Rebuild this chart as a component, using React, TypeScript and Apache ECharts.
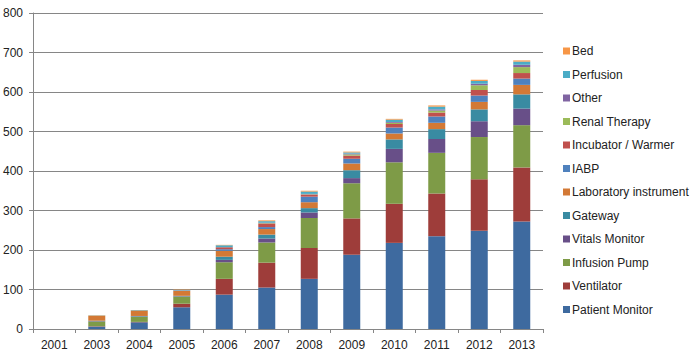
import React, { useEffect, useRef } from "react";
import * as echarts from "echarts";

const years = ["2001", "2003", "2004", "2005", "2006", "2007", "2008", "2009", "2010", "2011", "2012", "2013"];

const patientMonitor = [0, 6, 17, 55, 87, 105, 127, 188, 218, 235, 249, 272];
const ventilator = [0, 1, 1, 9, 40, 63, 78, 92, 99, 108, 130, 137];
const infusionPump = [0, 12, 13, 18, 42, 51, 76, 89, 105, 103, 107, 107];
const vitalsMonitor = [0, 1, 1, 1, 6, 10, 14, 13, 34, 35, 40, 42];
const gateway = [0, 1, 1, 1, 8, 10, 11, 20, 24, 25, 30, 36];
const labInstrument = [0, 12, 14, 13, 15, 14, 15, 17, 15, 16, 19, 24];
const iabp = [0, 0, 0, 1, 4, 5, 14, 12, 15, 16, 16, 16];
const incubator = [0, 0, 0, 0, 5, 9, 5, 8, 9, 10, 14, 14];
const renalTherapy = [0, 0, 0, 0, 0, 1, 1, 3, 3, 5, 12, 15];
const other = [0, 0, 0, 0, 0, 1, 1, 2, 2, 3, 4, 6];
const perfusion = [0, 1, 1, 1, 5, 4, 6, 3, 6, 7, 7, 8];
const bed = [0, 1, 0, 1, 1, 2, 2, 2, 2, 3, 3, 3];

const seriesNames = [
  "Patient Monitor",
  "Ventilator",
  "Infusion Pump",
  "Vitals Monitor",
  "Gateway",
  "Laboratory instrument",
  "IABP",
  "Incubator / Warmer",
  "Renal Therapy",
  "Other",
  "Perfusion",
  "Bed",
];
const seriesData = [
  patientMonitor, ventilator, infusionPump, vitalsMonitor, gateway, labInstrument,
  iabp, incubator, renalTherapy, other, perfusion, bed,
];
const seriesColors = [
  "#3E6A9F", "#9E3D3A", "#7E9B47", "#684F88", "#398BA2", "#D37935",
  "#4F81BD", "#C0504D", "#9BBB59", "#8064A2", "#4BACC6", "#F79646",
];

const yTicks = [0, 100, 200, 300, 400, 500, 600, 700, 800];

export default function App() {
  const ref = useRef<HTMLDivElement>(null);
  useEffect(() => {
    if (!ref.current) return;
    const chart = echarts.init(ref.current, undefined, { renderer: "svg" });
    const font = "'Liberation Sans', Arial, sans-serif";
    chart.setOption({
      animation: false,
      backgroundColor: "#ffffff",
      textStyle: { fontFamily: font },
      grid: { left: 33, right: 157, top: 13, bottom: 26 },
      legend: {
        orient: "vertical",
        left: 558,
        top: 39,
        itemWidth: 7,
        itemHeight: 7,
        itemGap: 9.5,
        icon: "rect",
        data: [...seriesNames].reverse(),
        textStyle: { fontFamily: font, fontSize: 12, color: "#222", padding: [0, 0, 0, -3], lineHeight: 14 },
      },
      xAxis: {
        type: "category",
        data: years,
        axisLine: { show: true, lineStyle: { color: "#868686", width: 1 } },
        axisTick: { show: true, length: 4, lineStyle: { color: "#868686" } },
        axisLabel: { color: "#222", fontSize: 12, fontFamily: font, margin: 10 },
      },
      yAxis: {
        type: "value",
        min: 0,
        max: yTicks[yTicks.length - 1],
        interval: 100,
        axisLine: { show: true, lineStyle: { color: "#868686", width: 1 } },
        axisTick: { show: true, length: 4, lineStyle: { color: "#868686" } },
        axisLabel: { color: "#222", fontSize: 12, fontFamily: font, margin: 10 },
        splitLine: { show: true, lineStyle: { color: "#868686", width: 1 } },
      },
      series: seriesNames.map((name, i) => ({
        name,
        type: "bar",
        stack: "total",
        barWidth: "40%",
        data: seriesData[i],
        itemStyle: { color: seriesColors[i] },
      })),
    });
    return () => chart.dispose();
  }, []);
  return (
    <div
      ref={ref}
      style={{ position: "fixed", left: 0, top: 0, width: 700, height: 355, background: "#fff" }}
    />
  );
}
